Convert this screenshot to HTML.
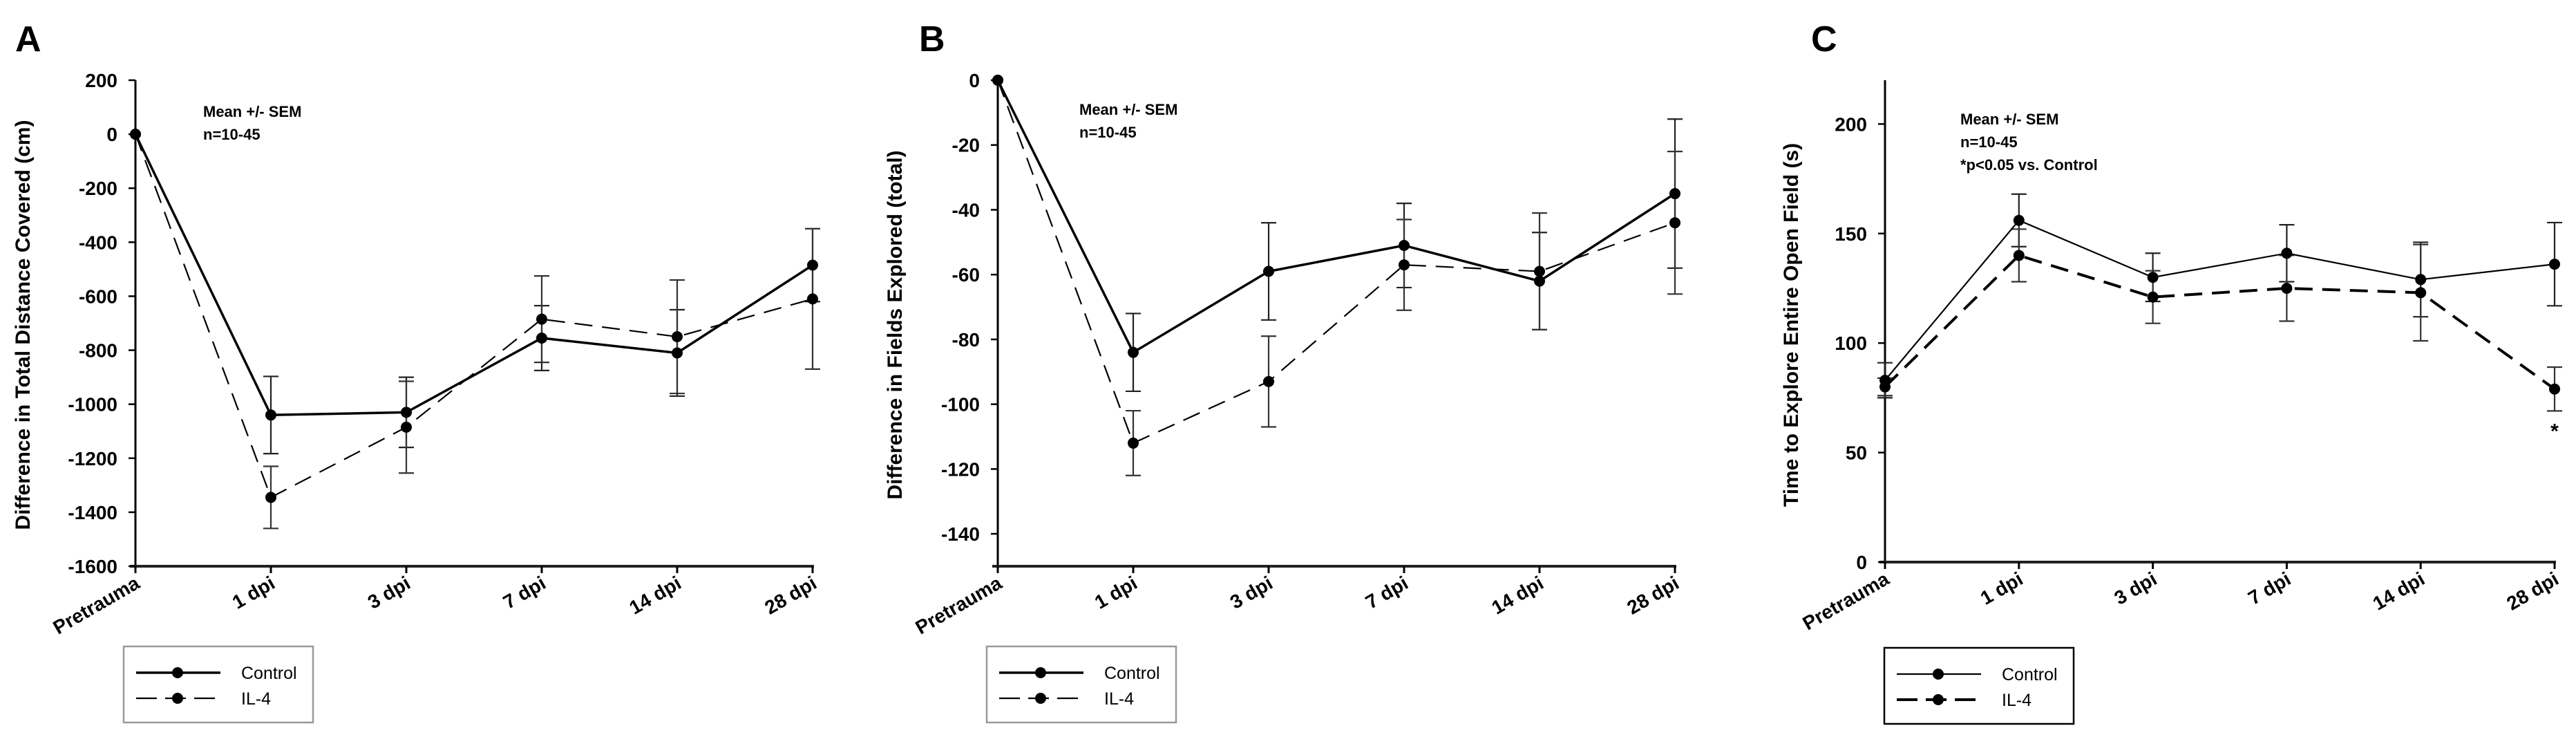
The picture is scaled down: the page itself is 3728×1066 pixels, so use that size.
<!DOCTYPE html>
<html><head><meta charset="utf-8">
<style>
html,body{margin:0;padding:0;background:#fff;}
svg{display:block;font-family:"Liberation Sans",Arial,sans-serif;}
</style></head>
<body>
<svg id="chart" width="3728" height="1066" viewBox="0 0 3728 1066" xmlns="http://www.w3.org/2000/svg"></svg>
<script>
const categories = ["Pretrauma","1 dpi","3 dpi","7 dpi","14 dpi","28 dpi"];
const seriesNames = ["Control","IL-4"];
// Panel A
const aControl = [0,-1040,-1030,-755,-810,-485];
const aControlErr = [0,143,130,120,160,135];
const aIL4 = [0,-1345,-1085,-685,-750,-610];
const aIL4Err = [0,115,170,160,210,260];
const aTicks = [200,0,-200,-400,-600,-800,-1000,-1200,-1400,-1600];
// Panel B
const bControl = [0,-84,-59,-51,-62,-35];
const bControlErr = [0,12,15,13,15,23];
const bIL4 = [0,-112,-93,-57,-59,-44];
const bIL4Err = [0,10,14,14,18,22];
const bTicks = [0,-20,-40,-60,-80,-100,-120,-140];
// Panel C
const cControl = [83,156,130,141,129,136];
const cControlErr = [8,12,11,13,17,19];
const cIL4 = [80,140,121,125,123,79];
const cIL4Err = [4,12,12,15,22,10];
const cTicks = [0,50,100,150,200];
const cStarValue = 61;

const NS="http://www.w3.org/2000/svg";
const svg=document.getElementById('chart');
function mk(tag,attrs,parent){const e=document.createElementNS(NS,tag);for(const k in attrs)e.setAttribute(k,attrs[k]);(parent||svg).appendChild(e);return e;}

function panel(cfg){
  const g=mk('g',{});
  
  
  const xs=i=>cfg.x0+i*(cfg.x1-cfg.x0)/(categories.length-1);
  const ys=v=>cfg.yTop+(cfg.vTop-v)*(cfg.yBot-cfg.yTop)/(cfg.vTop-cfg.vBot);
  // letter
  const L=mk('text',{x:cfg.letterX,y:74,'font-size':52,'font-weight':'bold'},g);L.textContent=cfg.letter;
  
  
  // axes
  const ya=mk('line',{x1:cfg.x0,y1:cfg.yTop,x2:cfg.x0,y2:cfg.yBot,stroke:'#000','stroke-width':3},g);
  
  
  const xa=mk('line',{x1:cfg.x0-8,y1:cfg.yBot,x2:cfg.x1+2,y2:cfg.yBot,stroke:'#222','stroke-width':4},g);
  
  
  // y ticks
  cfg.ticks.forEach(t=>{
    const y=ys(t);
    mk('line',{x1:cfg.x0-10,y1:y,x2:cfg.x0,y2:y,stroke:'#000','stroke-width':2.5},g);
    const tx=mk('text',{x:cfg.x0-26,y:y+10,'font-size':28,'font-weight':'bold','text-anchor':'end'},g);
    tx.textContent=t;
    
    
  });
  // x ticks
  categories.forEach((c,i)=>{
    const x=xs(i);
    mk('line',{x1:x,y1:cfg.yBot,x2:x,y2:cfg.yBot+10,stroke:'#000','stroke-width':3},g);
    const tx=mk('text',{x:x+8,y:cfg.yBot+30,'font-size':28,'font-weight':'bold','text-anchor':'end',transform:'rotate(-30 '+(x+8)+' '+(cfg.yBot+30)+')'},g);
    tx.textContent=c;
    
    
  });
  // y title
  const yt=mk('text',{x:0,y:0,'font-size':30,'font-weight':'bold','text-anchor':'middle',transform:'translate('+(cfg.titleX+11)+','+cfg.titleY+') rotate(-90)'},g);
  yt.textContent=cfg.title;
  
  
  // annotation
  cfg.notes.forEach((n,k)=>{
    const t=mk('text',{x:cfg.noteX,y:cfg.noteY+k*33,'font-size':22,'font-weight':'bold'},g);
    t.textContent=n;
    
    
  });
  // series
  const series=[
    {vals:cfg.ctrl,err:cfg.ctrlErr,dash:null,w:cfg.ctrlW,name:'control',errCol:'#222'},
    {vals:cfg.il4,err:cfg.il4Err,dash:'26 14',w:cfg.il4W,name:'il4',errCol:'#333'}
  ];
  series.forEach(s=>{
    s.vals.forEach((v,i)=>{
      if(!s.err[i])return;
      const x=xs(i),y1=ys(v+s.err[i]),y2=ys(v-s.err[i]);
      const e=mk('path',{d:'M'+x+' '+y1+'V'+y2+'M'+(x-11)+' '+y1+'H'+(x+11)+'M'+(x-11)+' '+y2+'H'+(x+11),stroke:s.errCol,'stroke-width':2.2,fill:'none'},g);
      
      
    });
  });
  series.forEach(s=>{
    const d=s.vals.map((v,i)=>(i?'L':'M')+xs(i)+' '+ys(v)).join('');
    const p=mk('path',{d:d,stroke:'#000','stroke-width':s.w,fill:'none'},g);
    if(s.dash)p.setAttribute('stroke-dasharray',s.dash);
    
    
    s.vals.forEach((v,i)=>{
      const c=mk('circle',{cx:xs(i),cy:ys(v),r:8,fill:'#000'},g);
      
      
    });
  });
  if(cfg.star!==undefined){
    const st=mk('text',{x:xs(5),y:ys(cfg.star)+14,'font-size':30,'font-weight':'bold','text-anchor':'middle'},g);
    st.textContent='*';
    
    
  }
  // legend
  const lg=mk('g',{},g);
  
  
  mk('rect',{x:cfg.lx,y:cfg.ly,width:274,height:110,fill:'#fff',stroke:cfg.legBorder,'stroke-width':2.5},lg);
  const rows=[[seriesNames[0],null,cfg.ctrlW],[seriesNames[1],'26 14',cfg.il4W]];
  rows.forEach((r,k)=>{
    const y=cfg.ly+38+k*37;
    const ln=mk('line',{x1:cfg.lx+18,y1:y,x2:cfg.lx+140,y2:y,stroke:'#000','stroke-width':r[2]},lg);
    if(r[1]){ln.setAttribute('stroke-dasharray','30 12');}
    mk('circle',{cx:cfg.lx+78,cy:y,r:8,fill:'#000'},lg);
    const t=mk('text',{x:cfg.lx+170,y:y+9,'font-size':25},lg);
    t.textContent=r[0];
    
    
  });
}

panel({letter:'A',letterX:22,x0:196,x1:1176,yTop:116,yBot:819,vTop:200,vBot:-1600,ticks:aTicks,
  title:'Difference in Total Distance Covered (cm)',titleX:32,titleY:470,
  notes:['Mean +/- SEM','n=10-45'],noteX:294,noteY:169,
  ctrl:aControl,ctrlErr:aControlErr,il4:aIL4,il4Err:aIL4Err,ctrlW:3.5,il4W:2.2,
  lx:179,ly:935,legBorder:'#999'});
panel({letter:'B',letterX:1330,x0:1444,x1:2424,yTop:116,yBot:819,vTop:0,vBot:-150,ticks:bTicks,
  title:'Difference in Fields Explored (total)',titleX:1294,titleY:470,
  notes:['Mean +/- SEM','n=10-45'],noteX:1562,noteY:166,
  ctrl:bControl,ctrlErr:bControlErr,il4:bIL4,il4Err:bIL4Err,ctrlW:3.5,il4W:2.2,
  lx:1428,ly:935,legBorder:'#999'});
panel({letter:'C',letterX:2621,x0:2728,x1:3697,yTop:116,yBot:813,vTop:220,vBot:0,ticks:cTicks,
  title:'Time to Explore Entire Open Field (s)',titleX:2591,titleY:470,
  notes:['Mean +/- SEM','n=10-45','*p<0.05 vs. Control'],noteX:2837,noteY:180,
  ctrl:cControl,ctrlErr:cControlErr,il4:cIL4,il4Err:cIL4Err,ctrlW:2.2,il4W:4,star:cStarValue,
  lx:2727,ly:937,legBorder:'#000'});
</script>
</body></html>
